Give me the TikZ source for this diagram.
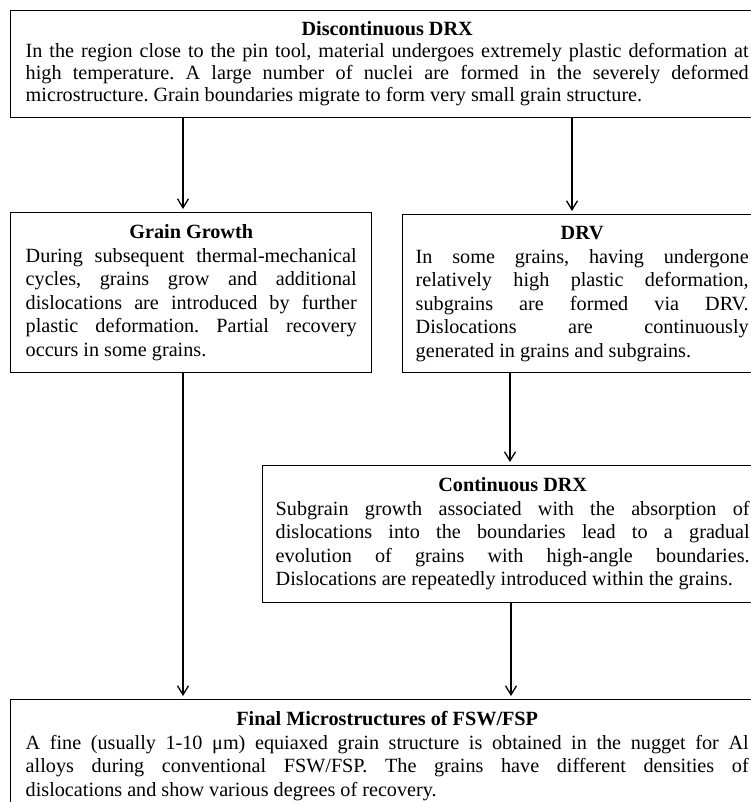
\documentclass[tikz,border=0pt]{standalone}
\usepackage{fontspec}
\setmainfont{Liberation Serif}
\usetikzlibrary{arrows.meta}
\frenchspacing
\newcommand{\jl}[1]{\hbox to \hsize{\strut#1}}
\newcommand{\lastl}[1]{\hbox to \hsize{\strut#1\hfil}}
\newcommand{\ttl}[1]{\hbox to \hsize{\strut\hfil\bfseries #1\hfil}}
\newcommand{\boxtext}[2]{\vbox{\hsize=#1\relax #2}}
\tikzset{
  box/.style={draw=black, line width=1.4pt, rectangle, anchor=north west,
    inner xsep=14pt, inner ysep=0pt,
    font=\fontsize{20.2}{23.5}\selectfont\frenchspacing},
  tightbox/.style={box, font=\fontsize{20.2}{22}\selectfont\frenchspacing},
  arr/.style={line width=1.3pt, -{Straight Barb[length=9pt,width=11pt,line width=1.3pt]}, shorten >=3pt}
}
\begin{document}
\begin{tikzpicture}[x=1pt,y=-1pt]
\useasboundingbox (0,0) rectangle (751,802);
\fill[white] (0,0) rectangle (751,802);
\clip (0,0) rectangle (751,802);

\node[tightbox, inner xsep=15pt, minimum height=107pt] (ddrx) at (10,10) {\boxtext{723pt}{%
\ttl{Discontinuous DRX}
\jl{In the region close to the pin tool, material undergoes extremely plastic deformation at}
\jl{high temperature. A large number of nuclei are formed in the severely deformed}
\lastl{microstructure. Grain boundaries migrate to form very small grain structure.}}};

\node[box, inner xsep=15pt, minimum height=160pt] (grain) at (10,212) {\boxtext{331pt}{%
\ttl{Grain Growth}
\jl{During subsequent thermal-mechanical}
\jl{cycles, grains grow and additional}
\jl{dislocations are introduced by further}
\jl{plastic deformation. Partial recovery}
\lastl{occurs in some grains.}}};

\node[box, inner xsep=13pt, minimum height=158pt] (drv) at (402,214) {\boxtext{333pt}{%
\ttl{DRV}
\jl{In some grains, having undergone}
\jl{relatively high plastic deformation,}
\jl{subgrains are formed via DRV.}
\jl{Dislocations are continuously}
\lastl{generated in grains and subgrains.}}};

\node[box, inner xsep=13pt, minimum height=137pt] (cdrx) at (262,465) {\boxtext{474pt}{%
\ttl{Continuous DRX}
\jl{Subgrain growth associated with the absorption of}
\jl{dislocations into the boundaries lead to a gradual}
\jl{evolution of grains with high-angle boundaries.}
\lastl{Dislocations are repeatedly introduced within the grains.}}};

\node[box, inner xsep=15pt, minimum height=113pt] (final) at (10,699) {\boxtext{723pt}{%
\ttl{Final Microstructures of FSW/FSP}
\jl{A fine (usually 1-10 μm) equiaxed grain structure is obtained in the nugget for Al}
\jl{alloys during conventional FSW/FSP. The grains have different densities of}
\lastl{dislocations and show various degrees of recovery.}}};

\coordinate (a1) at (183,0);
\coordinate (a2) at (572,0);
\coordinate (a3) at (510,0);
\coordinate (a4) at (511,0);

\draw[arr] (ddrx.south -| a1) -- (grain.north -| a1);
\draw[arr] (ddrx.south -| a2) -- (drv.north -| a2);
\draw[arr] (drv.south -| a3) -- (cdrx.north -| a3);
\draw[arr] (grain.south -| a1) -- (final.north -| a1);
\draw[arr] (cdrx.south -| a4) -- (final.north -| a4);
\end{tikzpicture}
\end{document}
